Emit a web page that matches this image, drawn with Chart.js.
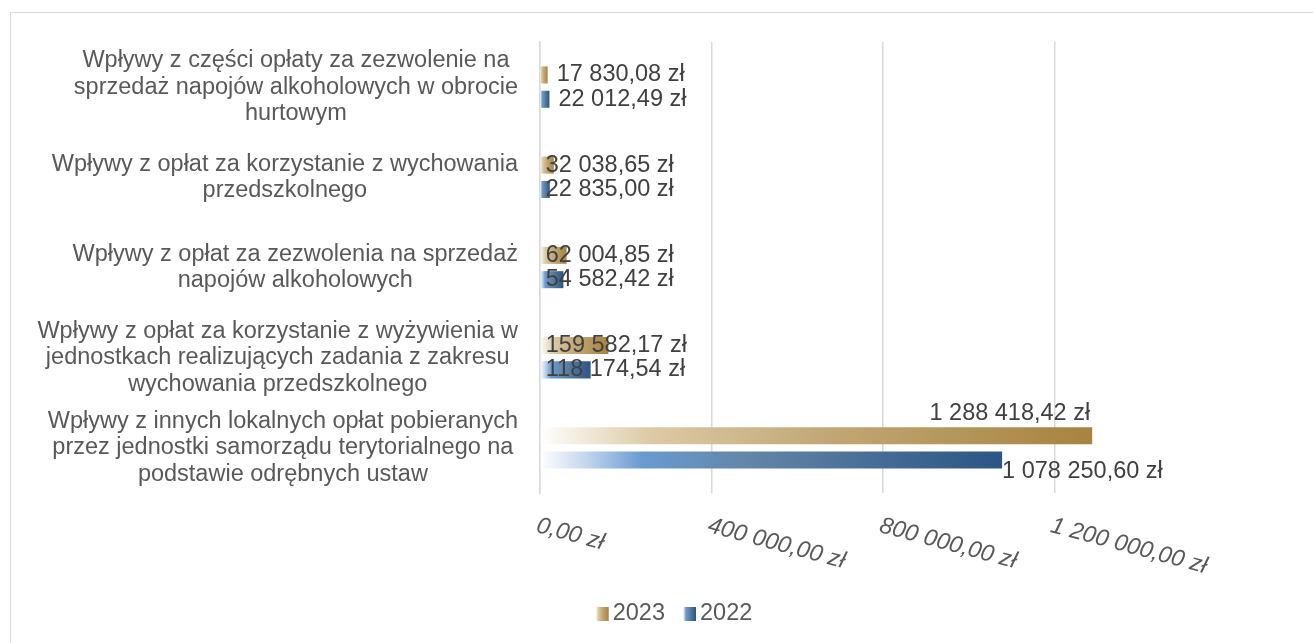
<!DOCTYPE html>
<html>
<head>
<meta charset="utf-8">
<script src="https://cdn.jsdelivr.net/npm/chart.js@4"></script>
<style>
  body { margin: 0; background: #fff; }
</style>
</head>
<body>
<canvas id="myChart" width="1313" height="643"></canvas>
<script>
// categories (top to bottom), each split into display lines
const kategorie = [
  ['Wpływy z części opłaty za zezwolenie na', 'sprzedaż napojów alkoholowych w obrocie', 'hurtowym'],
  ['Wpływy z opłat za korzystanie z wychowania', 'przedszkolnego'],
  ['Wpływy z opłat za zezwolenia na sprzedaż', 'napojów alkoholowych'],
  ['Wpływy z opłat za korzystanie z wyżywienia w', 'jednostkach realizujących zadania z zakresu', 'wychowania przedszkolnego'],
  ['Wpływy z innych lokalnych opłat pobieranych', 'przez jednostki samorządu terytorialnego na', 'podstawie odrębnych ustaw']
];
const wplywy2023 = [17830.08, 32038.65, 62004.85, 159582.17, 1288418.42];
const wplywy2022 = [22012.49, 22835.00, 54582.42, 118174.54, 1078250.60];
const osX = [0, 400000, 800000, 1200000];
const osXEtykiety = ['0,00 zł', '400 000,00 zł', '800 000,00 zł', '1 200 000,00 zł'];

const FONT = '"Liberation Sans", Arial, sans-serif';
const SIZE = 23.5;
const gold = [[0, '#ffffff'], [0.2, '#dccaa5'], [0.5, '#c3a978'], [1, '#a6833f']];
const blue = [[0, '#ffffff'], [0.1, '#c3d6ec'], [0.22, '#6a9bd1'], [0.45, '#6385a8'], [1, '#2b5585']];

function zl(v) {
  const [i, d] = v.toFixed(2).split('.');
  return i.replace(/\B(?=(\d{3})+(?!\d))/g, ' ') + ',' + d + ' zł';
}

function gradient(ctx, x0, x1, stops) {
  const g = ctx.createLinearGradient(x0, 0, x1, 0);
  stops.forEach(s => g.addColorStop(s[0], s[1]));
  return g;
}

function barFill(stops) {
  return (c) => {
    const chart = c.chart;
    const xs = chart.scales.x;
    if (!chart.chartArea || !xs) return stops[stops.length - 1][1];
    const v = c.dataset.data[c.dataIndex];
    const x0 = xs.getPixelForValue(0);
    const x1 = Math.max(xs.getPixelForValue(v), x0 + 1);
    return gradient(chart.ctx, x0, x1, stops);
  };
}

const drawExtras = {
  id: 'drawExtras',
  beforeDraw(chart) {
    const ctx = chart.ctx;
    ctx.save();
    ctx.fillStyle = '#fff';
    ctx.fillRect(0, 0, chart.width, chart.height);
    ctx.strokeStyle = '#d9d9d9';
    ctx.lineWidth = 1;
    ctx.strokeRect(10.5, 12.5, 1400, 700);
    ctx.restore();
  },
  afterDraw(chart) {
    const ctx = chart.ctx;
    const xs = chart.scales.x, ys = chart.scales.y;
    ctx.save();

    // category labels: block right aligned, lines centred in block
    ctx.font = SIZE + 'px ' + FONT;
    ctx.fillStyle = '#595959';
    ctx.textAlign = 'center';
    ctx.textBaseline = 'middle';
    const lh = 26.5;
    kategorie.forEach((lines, i) => {
      const yc = ys.getPixelForTick(i);
      const w = Math.max(...lines.map(l => ctx.measureText(l).width));
      const cx = chart.chartArea.left - 22 - w / 2;
      lines.forEach((l, j) => {
        ctx.fillText(l, cx, yc + (j - (lines.length - 1) / 2) * lh);
      });
    });

    // x tick labels, rotated clockwise
    ctx.font = 'italic ' + SIZE + 'px ' + FONT;
    ctx.textAlign = 'left';
    ctx.textBaseline = 'top';
    osX.forEach((v, i) => {
      const x = xs.getPixelForValue(v);
      ctx.save();
      ctx.translate(x, chart.chartArea.bottom + 21);
      ctx.rotate(15 * Math.PI / 180);
      ctx.fillText(osXEtykiety[i], 0, 0);
      ctx.restore();
    });

    // data labels
    ctx.font = SIZE + 'px ' + FONT;
    ctx.fillStyle = '#404040';
    ctx.textBaseline = 'middle';
    chart.data.datasets.forEach((ds, di) => {
      const meta = chart.getDatasetMeta(di);
      meta.data.forEach((bar, i) => {
        const txt = zl(ds.data[i]);
        if (i === ds.data.length - 1) {
          if (di === 0) {
            ctx.textAlign = 'right';
            ctx.fillText(txt, bar.x - 2, bar.y - 22);
          } else {
            ctx.textAlign = 'left';
            ctx.fillText(txt, bar.x, bar.y + 11);
          }
        } else {
          ctx.textAlign = 'left';
          const x = i === 0 ? bar.x + 9 : bar.base + 5;
          ctx.fillText(txt, x, bar.y);
        }
      });
    });

    // legend
    ctx.font = SIZE + 'px ' + FONT;
    ctx.textAlign = 'left';
    const items = chart.data.datasets.map(ds => ({ label: ds.label, stops: ds.stops }));
    const boxW = 13, gap = 4, itemGap = 18;
    const widths = items.map(it => boxW + gap + ctx.measureText(it.label).width);
    const total = widths.reduce((a, b) => a + b, 0) + itemGap * (items.length - 1);
    let lx = 674 - total / 2;
    const ly = 614;
    items.forEach((it, k) => {
      ctx.fillStyle = gradient(ctx, lx, lx + boxW, it.stops);
      ctx.fillRect(lx, ly - 7, boxW, 14);
      ctx.fillStyle = '#595959';
      ctx.fillText(it.label, lx + boxW + gap, ly);
      lx += widths[k] + itemGap;
    });

    ctx.restore();
  }
};

const ctx = document.getElementById('myChart').getContext('2d');
const myChart = new Chart(ctx, {
  type: 'bar',
  data: {
    labels: kategorie,
    datasets: [
      {
        label: '2023',
        data: wplywy2023,
        stops: gold,
        backgroundColor: barFill(gold),
        borderWidth: 0
      },
      {
        label: '2022',
        data: wplywy2022,
        stops: blue,
        backgroundColor: barFill(blue),
        borderWidth: 0
      }
    ]
  },
  options: {
    indexAxis: 'y',
    responsive: false,
    animation: false,
    devicePixelRatio: 1,
    categoryPercentage: 0.54,
    barPercentage: 0.7,
    layout: { padding: { top: 42, right: 173, left: 0, bottom: 0 } },
    plugins: {
      legend: { display: false },
      tooltip: { enabled: false }
    },
    scales: {
      x: {
        min: 0,
        max: 1400000,
        afterBuildTicks: (scale) => { scale.ticks = osX.map(v => ({ value: v })); },
        afterFit: (scale) => { scale.height = 150; },
        ticks: { display: false },
        grid: { color: '#d9d9d9', lineWidth: 1.5, drawTicks: false },
        border: { display: false }
      },
      y: {
        afterFit: (scale) => { scale.width = 540; },
        ticks: { display: false },
        grid: { display: false, drawTicks: false },
        border: { display: true, color: '#d9d9d9', width: 1.5 }
      }
    }
  },
  plugins: [drawExtras]
});
</script>
</body>
</html>
